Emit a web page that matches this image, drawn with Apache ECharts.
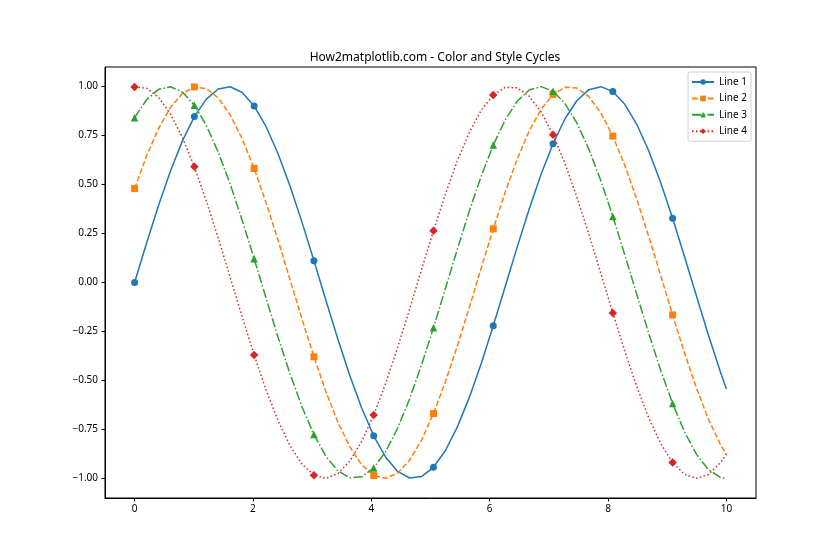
<!DOCTYPE html>
<html><head><meta charset="utf-8">
<script src="https://cdn.jsdelivr.net/npm/echarts@6/dist/echarts.min.js"></script>
<style>html,body{margin:0;padding:0;background:#fff}#c{width:840px;height:560px}</style>
</head><body><div id="c"></div>
<script>
const titleText = 'How2matplotlib.com - Color and Style Cycles';
const seriesNames = ['Line 1', 'Line 2', 'Line 3', 'Line 4'];
const xValues = [0, 0.20202, 0.40404, 0.60606, 0.80808, 1.01010, 1.21212, 1.41414, 1.61616, 1.81818,
  2.02020, 2.22222, 2.42424, 2.62626, 2.82828, 3.03030, 3.23232, 3.43434, 3.63636, 3.83838,
  4.04040, 4.24242, 4.44444, 4.64646, 4.84848, 5.05051, 5.25253, 5.45455, 5.65657, 5.85859,
  6.06061, 6.26263, 6.46465, 6.66667, 6.86869, 7.07071, 7.27273, 7.47475, 7.67677, 7.87879,
  8.08081, 8.28283, 8.48485, 8.68687, 8.88889, 9.09091, 9.29293, 9.49495, 9.69697, 9.89899, 10];
const line1 = [0, 0.2006, 0.3931, 0.5696, 0.7230, 0.8469, 0.9363, 0.9877, 0.9990, 0.9696,
  0.9007, 0.7952, 0.6574, 0.4928, 0.3082, 0.1111, -0.0906, -0.2886, -0.4748, -0.6417,
  -0.7826, -0.8916, -0.9644, -0.9978, -0.9907, -0.9433, -0.8577, -0.7370, -0.5864, -0.4119,
  -0.2208, -0.0205, 0.1805, 0.3741, 0.5526, 0.7086, 0.8358, 0.9289, 0.9843, 0.9997,
  0.9744, 0.9094, 0.8075, 0.6727, 0.5106, 0.3277, 0.1315, -0.0701, -0.2688, -0.4566, -0.5440];
const line2 = [0.4794, 0.6457, 0.7858, 0.8939, 0.9657, 0.9982, 0.9900, 0.9416, 0.8550, 0.7335,
  0.5821, 0.4072, 0.2157, 0.0153, -0.1857, -0.3790, -0.5570, -0.7124, -0.8387, -0.9308,
  -0.9852, -0.9995, -0.9733, -0.9073, -0.8044, -0.6689, -0.5061, -0.3227, -0.1263, 0.0753,
  0.2738, 0.4613, 0.6299, 0.7729, 0.8845, 0.9602, 0.9967, 0.9927, 0.9483, 0.8655,
  0.7473, 0.5987, 0.4259, 0.2357, 0.0359, -0.1654, -0.3599, -0.5397, -0.6977, -0.8273, -0.8797];
const line3 = [0.8415, 0.9327, 0.9861, 0.9994, 0.9720, 0.9051, 0.8013, 0.6650, 0.5016, 0.3178,
  0.1211, -0.0805, -0.2789, -0.4659, -0.6340, -0.7762, -0.8870, -0.9617, -0.9971, -0.9920,
  -0.9467, -0.8628, -0.7439, -0.5945, -0.4211, -0.2306, -0.0306, 0.1705, 0.3648, 0.5441,
  0.7015, 0.8302, 0.9251, 0.9825, 0.9999, 0.9766, 0.9135, 0.8134, 0.6802, 0.5193,
  0.3372, 0.1414, -0.0600, -0.2591, -0.4476, -0.6179, -0.7631, -0.8773, -0.9558, -0.9953, -1.0000];
const line4 = [0.9975, 0.9914, 0.9450, 0.8602, 0.7404, 0.5903, 0.4164, 0.2255, 0.0254, -0.1757,
  -0.3696, -0.5485, -0.7052, -0.8331, -0.9271, -0.9834, -0.9998, -0.9755, -0.9115, -0.8104,
  -0.6763, -0.5148, -0.3323, -0.1363, 0.0653, 0.2641, 0.4523, 0.6220, 0.7665, 0.8798,
  0.9573, 0.9958, 0.9939, 0.9516, 0.8704, 0.7539, 0.6068, 0.4350, 0.2455, 0.0460,
  -0.1554, -0.3504, -0.5312, -0.6905, -0.8216, -0.9192, -0.9795, -1.0000, -0.9797, -0.9197, -0.8756];
const xTicks = [0, 2, 4, 6, 8, 10];
const yTicks = [-1, -0.75, -0.5, -0.25, 0, 0.25, 0.5, 0.75, 1];

const allLines = [line1, line2, line3, line4];
const colors = ['#1f77b4', '#ff7f0e', '#2ca02c', '#d62728'];
const symbols = ['circle', 'rect', 'triangle', 'diamond'];
const symbolSizes = [7, 7, 7.5, 8.5];
const dashes = ['solid', [5.5, 2.4], [9.3, 2.3, 1.5, 2.3], [1.5, 2.4]];
const fontFam = 'Noto Sans, DejaVu Sans, sans-serif';

const series = allLines.map((ys, s) => ({
  name: seriesNames[s],
  type: 'line',
  smooth: false,
  showSymbol: true,
  showAllSymbol: true,
  symbol: symbols[s],
  symbolSize: symbolSizes[s],
  color: colors[s],
  itemStyle: { color: colors[s] },
  lineStyle: { color: colors[s], width: 1.5, type: dashes[s] },
  emphasis: { disabled: true },
  z: 2 + s,
  data: ys.map((y, i) => {
    const item = { value: [xValues[i], y] };
    if (!(i % 5 === 0 && i < 50)) item.symbol = 'none';
    return item;
  })
}));

const chart = echarts.init(document.getElementById('c'), null, { renderer: 'canvas' });
chart.setOption({
  animation: false,
  backgroundColor: '#fff',
  title: {
    text: titleText, left: 430, top: 47, textAlign: 'center',
    textStyle: { fontFamily: fontFam, fontSize: 12, fontWeight: 'normal', color: '#000' }
  },
  legend: {
    orient: 'vertical', right: 89, top: 72,
    itemWidth: 22, itemHeight: 7, itemGap: 6.4,
    padding: [5, 4, 5, 3],
    borderColor: '#d0d0d0', borderWidth: 1, borderRadius: 2,
    backgroundColor: 'rgba(255,255,255,0.8)',
    textStyle: { fontFamily: fontFam, fontSize: 10, color: '#000' },
    data: seriesNames
  },
  grid: { left: 105, right: 84, top: 67, bottom: 62, show: true, borderColor: '#000', borderWidth: 1, backgroundColor: 'transparent' },
  xAxis: {
    type: 'value', min: -0.5, max: 10.5,
    axisLine: { show: true, onZero: false, lineStyle: { color: '#000', width: 1 } },
    axisTick: { show: true, length: 3.5, lineStyle: { color: '#000' }, customValues: xTicks },
    axisLabel: { color: '#000', fontFamily: fontFam, fontSize: 10, margin: 6, customValues: xTicks,
      formatter: v => String(v) },
    splitLine: { show: false }
  },
  yAxis: {
    type: 'value', min: -1.1, max: 1.1,
    axisLine: { show: true, onZero: false, lineStyle: { color: '#000', width: 1 } },
    axisTick: { show: true, length: 3.5, lineStyle: { color: '#000' }, customValues: yTicks },
    axisLabel: { color: '#000', fontFamily: fontFam, fontSize: 10, margin: 7, customValues: yTicks,
      formatter: v => (v < 0 ? '\u2212' : '') + Math.abs(v).toFixed(2) },
    splitLine: { show: false }
  },
  series: series
});
</script></body></html>
